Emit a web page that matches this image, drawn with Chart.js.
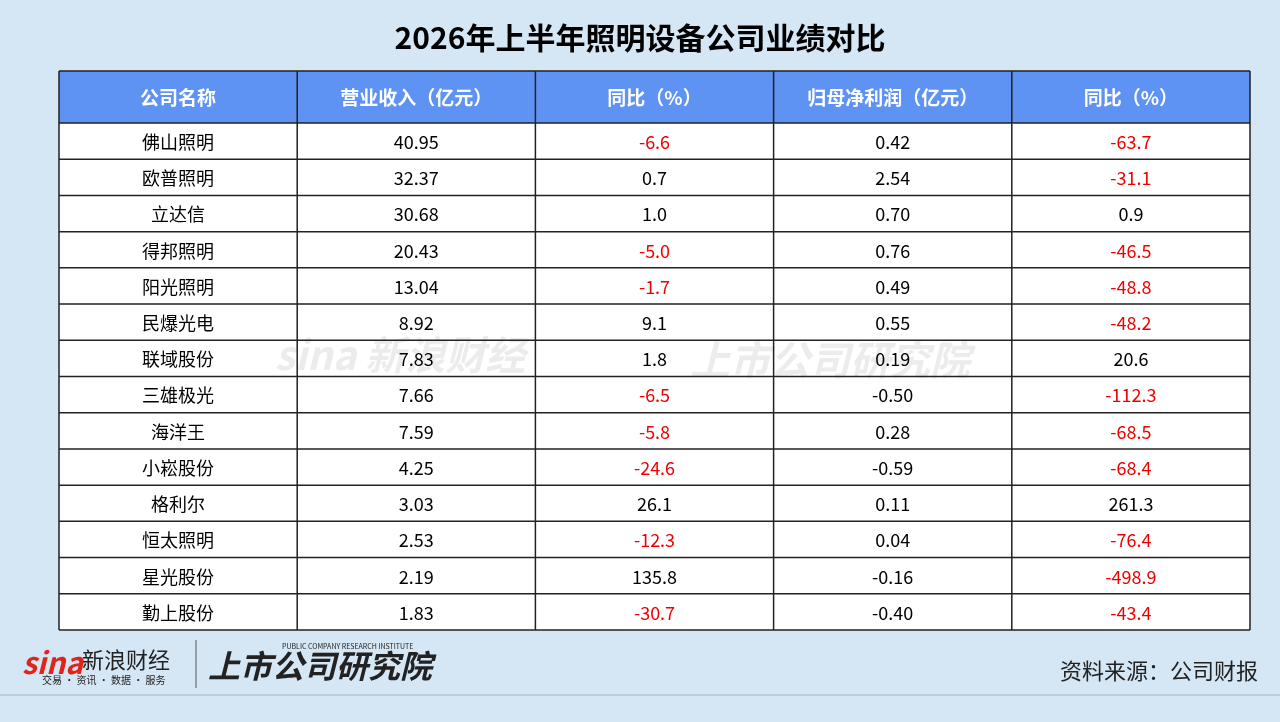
<!DOCTYPE html>
<html>
<head>
<meta charset="utf-8">
<script src="https://cdn.jsdelivr.net/npm/chart.js@4"></script>
<style>
  body { margin: 0; background: #d5e6f5; }
  canvas { display: block; }
</style>
</head>
<body>
<canvas id="tableau" width="1280" height="722"></canvas>
<script>
// données du tableau
const titre = '2026年上半年照明设备公司业绩对比'
const colonnes = ['公司名称', '营业收入（亿元）', '同比（%）', '归母净利润（亿元）', '同比（%）']
const societes = ['佛山照明', '欧普照明', '立达信', '得邦照明', '阳光照明', '民爆光电', '联域股份', '三雄极光', '海洋王', '小崧股份', '格利尔', '恒太照明', '星光股份', '勤上股份']
const revenus = ['40.95', '32.37', '30.68', '20.43', '13.04', '8.92', '7.83', '7.66', '7.59', '4.25', '3.03', '2.53', '2.19', '1.83']
const revenusYoy = ['-6.6', '0.7', '1.0', '-5.0', '-1.7', '9.1', '1.8', '-6.5', '-5.8', '-24.6', '26.1', '-12.3', '135.8', '-30.7']
const benefices = ['0.42', '2.54', '0.70', '0.76', '0.49', '0.55', '0.19', '-0.50', '0.28', '-0.59', '0.11', '0.04', '-0.16', '-0.40']
const beneficesYoy = ['-63.7', '-31.1', '0.9', '-46.5', '-48.8', '-48.2', '20.6', '-112.3', '-68.5', '-68.4', '261.3', '-76.4', '-498.9', '-43.4']
const source = '资料来源：公司财报'

const police = '"Noto Sans CJK SC", "Noto Sans", sans-serif'
const hautEntete = 52

// plugin qui dessine les cellules à partir des échelles
const tablePlugin = {
  id: 'table',
  afterDraw(chart) {
    const ctx = chart.ctx
    const x = chart.scales.x
    const y = chart.scales.y
    const area = chart.chartArea
    const lc = (area.right - area.left) / colonnes.length
    const hl = (area.bottom - area.top) / societes.length

    // fond
    ctx.save()
    // titre
    ctx.fillStyle = '#000'
    ctx.font = 'bold 30px ' + police
    ctx.textAlign = 'center'
    ctx.textBaseline = 'middle'
    ctx.fillText(titre, 640, 38)

    // entete
    ctx.fillStyle = '#5e92f3'
    ctx.fillRect(area.left, area.top - hautEntete, area.right - area.left, hautEntete)
    ctx.fillStyle = '#ffffff'
    ctx.fillRect(area.left, area.top, area.right - area.left, area.bottom - area.top)

    // filigrane
    ctx.fillStyle = 'rgba(150,150,150,0.18)'
    ctx.font = 'bold italic 40px ' + police
    ctx.fillText('sina 新浪财经', 400, 355)
    ctx.fillText('上市公司研究院', 830, 360)

    ctx.font = 'bold 19px ' + police
    ctx.fillStyle = '#ffffff'
    colonnes.forEach((c, i) => {
      ctx.fillText(c, x.getPixelForValue(i), area.top - hautEntete / 2 + 1)
    })

    const cols = [societes, revenus, revenusYoy, benefices, beneficesYoy]
    ctx.font = '18px ' + police
    societes.forEach((s, r) => {
      const cy = y.getPixelForValue(r)
      cols.forEach((col, i) => {
        const v = col[r]
        const rouge = (i === 2 || i === 4) && v.startsWith('-')
        ctx.fillStyle = rouge ? '#ee0000' : '#000'
        ctx.fillText(v, x.getPixelForValue(i), cy + 1)
      })
    })

    // bordures
    ctx.strokeStyle = '#222'
    ctx.lineWidth = 1.5
    ctx.beginPath()
    for (let i = 0; i <= colonnes.length; i++) {
      const px = area.left + i * lc
      ctx.moveTo(px, area.top - hautEntete)
      ctx.lineTo(px, area.bottom)
    }
    ctx.moveTo(area.left, area.top - hautEntete)
    ctx.lineTo(area.right, area.top - hautEntete)
    for (let r = 0; r <= societes.length; r++) {
      const py = area.top + r * hl
      ctx.moveTo(area.left, py)
      ctx.lineTo(area.right, py)
    }
    ctx.stroke()

    // pied de page
    ctx.fillStyle = '#e2231a'
    ctx.font = 'bold italic 30px ' + police
    ctx.textAlign = 'left'
    ctx.fillText('sina', 22, 663)
    ctx.fillStyle = '#222'
    ctx.font = '22px ' + police
    ctx.fillText('新浪财经', 82, 660)
    ctx.font = '10px ' + police
    ctx.fillText('交易 · 资讯 · 数据 · 服务', 42, 680)
    ctx.strokeStyle = '#555'
    ctx.lineWidth = 1
    ctx.beginPath()
    ctx.moveTo(196, 640); ctx.lineTo(196, 688)
    ctx.stroke()
    ctx.font = 'bold italic 32px ' + police
    ctx.fillText('上市公司研究院', 208, 666)
    ctx.font = '7px ' + police
    ctx.fillText('PUBLIC COMPANY RESEARCH INSTITUTE', 282, 646)
    ctx.textAlign = 'right'
    ctx.font = '22px ' + police
    ctx.fillText(source, 1258, 671)
    ctx.strokeStyle = '#9fb6cc'
    ctx.beginPath()
    ctx.moveTo(0, 695); ctx.lineTo(1280, 695)
    ctx.stroke()
    ctx.restore()
  }
}

new Chart(document.getElementById('tableau'), {
  type: 'scatter',
  data: { datasets: [{ data: [] }] },
  options: {
    responsive: false,
    animation: false,
    layout: { padding: { left: 59, right: 30, top: 123, bottom: 92 } },
    plugins: { legend: { display: false }, tooltip: { enabled: false } },
    scales: {
      x: { type: 'category', labels: colonnes.map((c, i) => i), offset: true, display: false },
      y: { type: 'category', labels: societes.map((s, i) => i), offset: true, display: false }
    }
  },
  plugins: [tablePlugin]
})
</script>
</body>
</html>
